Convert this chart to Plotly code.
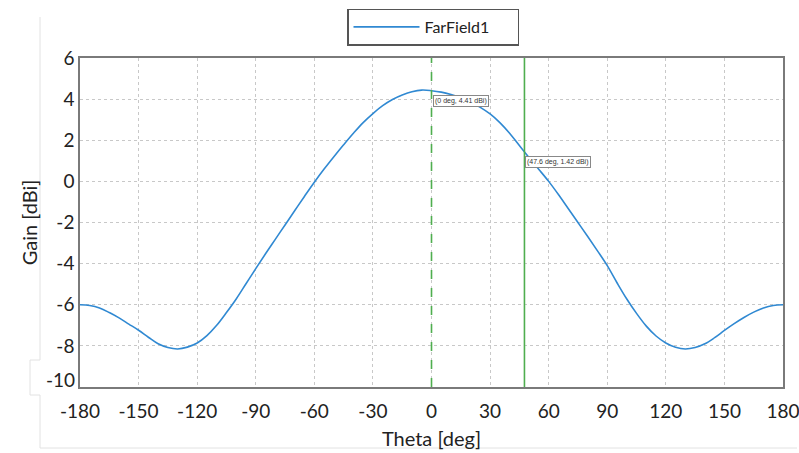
import plotly.graph_objects as go

theta = list(range(-180, 185, 5))
gain = [
    -6.00, -6.04, -6.16, -6.38, -6.64, -6.94, -7.24, -7.58, -7.90, -8.08,
    -8.15, -8.06, -7.86, -7.50, -7.00, -6.38, -5.72, -4.98, -4.24, -3.52,
    -2.82, -2.12, -1.42, -0.72, -0.04, 0.60, 1.20, 1.78, 2.34, 2.86,
    3.30, 3.68, 3.98, 4.20, 4.36, 4.44, 4.41, 4.34, 4.22, 4.06,
    3.86, 3.60, 3.28, 2.86, 2.34, 1.74, 1.15, 0.58, 0.00, -0.64,
    -1.32, -2.00, -2.68, -3.38, -4.10, -4.93, -5.72, -6.42, -7.04, -7.52,
    -7.86, -8.07, -8.15, -8.08, -7.90, -7.60, -7.25, -6.92, -6.62, -6.36,
    -6.16, -6.04, -6.00,
]
x_ticks = [-180, -150, -120, -90, -60, -30, 0, 30, 60, 90, 120, 150, 180]
x_labels = ["-180", "-150", "-120", "-90", "-60", "-30", "0", "30", "60", "90", "120", "150", "180"]
y_ticks = [-10, -8, -6, -4, -2, 0, 2, 4, 6]
y_labels = ["", "-8", "-6", "-4", "-2", "0", "2", "4", "6"]
markers_theta = [0, 47.6]
markers_gain = [4.41, 1.42]
marker_labels = ["(0 deg, 4.41 dBi)", "(47.6 deg, 1.42 dBi)"]
marker_dash = ["dash", "solid"]

FONT = "Lato, 'Open Sans', sans-serif"
GREEN = "#4fae4f"

fig = go.Figure()
fig.add_trace(go.Scatter(
    x=theta, y=gain, mode="lines", name="FarField1",
    line=dict(color="#3089d2", width=1.6, shape="spline", smoothing=1.0),
    showlegend=True,
))

for t, d in zip(markers_theta, marker_dash):
    fig.add_shape(type="line", xref="x", yref="paper", x0=t, x1=t, y0=0, y1=1,
                  line=dict(color=GREEN, width=1.6, dash=d), layer="above")

for t, g, lab in zip(markers_theta, markers_gain, marker_labels):
    fig.add_annotation(x=t, y=g, xref="x", yref="y", text=lab, showarrow=False,
                       xanchor="left", yanchor="top", xshift=1, yshift=-4,
                       font=dict(family="Liberation Sans, sans-serif", size=7, color="#333"),
                       bgcolor="white", bordercolor="#888", borderwidth=1, borderpad=1)

# the lowest y tick label, lifted above the x tick labels as in the reference
fig.add_annotation(x=0, y=y_ticks[0], xref="paper", yref="y", text="-10", showarrow=False,
                   xanchor="right", yanchor="middle", xshift=-3, yshift=8,
                   font=dict(family=FONT, size=19, color="#222"))

# faint page frame lines seen in the reference image (plot area spans 80..783 x 58..387 px)
def px(xp):
    return (xp - 80) / 703.0
def py(yp):
    return (387 - yp) / 329.0

frame = dict(color="#e2e2e2", width=1)
fig.add_shape(type="line", xref="paper", yref="paper", x0=px(40), x1=px(40), y0=py(17), y1=py(360), line=frame)
fig.add_shape(type="line", xref="paper", yref="paper", x0=px(40), x1=px(40), y0=py(395), y1=py(448), line=frame)
fig.add_shape(type="line", xref="paper", yref="paper", x0=px(30), x1=px(40), y0=py(360), y1=py(360), line=frame)
fig.add_shape(type="line", xref="paper", yref="paper", x0=px(30), x1=px(30), y0=py(360), y1=py(395), line=frame)
fig.add_shape(type="line", xref="paper", yref="paper", x0=px(30), x1=px(40), y0=py(395), y1=py(395), line=frame)
fig.add_shape(type="line", xref="paper", yref="paper", x0=px(40), x1=px(797), y0=py(448), y1=py(448), line=frame)

axis_common = dict(
    showgrid=True, gridcolor="#c8c8c8", griddash="dot", gridwidth=1,
    showline=True, linecolor="#7a7a7a", linewidth=1.5, mirror=True,
    zeroline=False, ticks="", automargin=False, ticklabeloverflow="allow",
    tickfont=dict(family=FONT, size=19, color="#222"),
)

fig.update_layout(
    width=799, height=453,
    margin=dict(l=80, r=16, t=58, b=66, autoexpand=False),
    paper_bgcolor="white", plot_bgcolor="white",
    font=dict(family=FONT, color="#222"),
    xaxis=dict(range=[-180, 180], tickvals=x_ticks, ticktext=x_labels, ticklabelstandoff=6,
               **axis_common,
               title=dict(text="Theta [deg]", font=dict(family=FONT, size=20, color="#222"), standoff=11)),
    yaxis=dict(range=[-10, 6], tickvals=y_ticks, ticktext=y_labels, **axis_common,
               title=dict(text="Gain [dBi]", font=dict(family=FONT, size=20, color="#222"), standoff=13)),
    legend=dict(x=433 / 799, xref="container", xanchor="center",
                y=1 - 27 / 453, yref="container", yanchor="middle",
                orientation="h", bgcolor="white", bordercolor="#555", borderwidth=1.5,
                font=dict(family=FONT, size=16, color="#222"),
                entrywidth=88, entrywidthmode="pixels", itemwidth=66),
    showlegend=True,
)

# remove the default page margin so the 799x453 figure fills the window exactly
fig.write_html("out.html",
               config={"displayModeBar": False},
               post_script="document.body.style.margin='0';document.body.style.overflow='hidden';")
